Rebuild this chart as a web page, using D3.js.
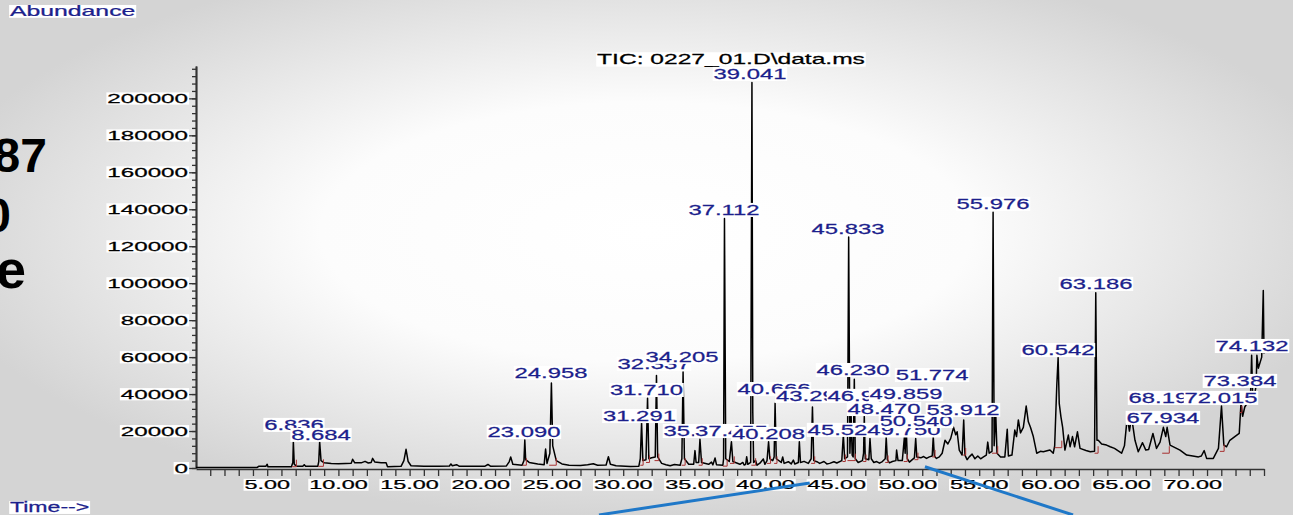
<!DOCTYPE html>
<html>
<head>
<meta charset="utf-8">
<script src="https://cdn.jsdelivr.net/npm/d3@7"></script>
<style>
  html, body { margin: 0; padding: 0; overflow: hidden; }
  text { font-family: "Liberation Sans", Arial, sans-serif; }
</style>
</head>
<body>
<div id="chart"></div>
<script>
// chromatogram trace: [time (min), abundance]
const trace = [
  [0.0, 300], [4.3, 300], [4.4, 900], [4.9, 900], [5.0, 2000], [5.05, 700], [6.7, 700], [6.8, 3000],
  [6.836, 14200], [6.9, 2000], [7.1, 900], [7.5, 900], [7.6, 1800], [7.7, 900], [8.55, 900], [8.62, 3500],
  [8.684, 14200], [8.78, 4000], [9.0, 2800], [9.5, 2500], [10.0, 2300], [10.5, 2500], [10.9, 2600], [11.0, 4700],
  [11.15, 2800], [11.6, 2800], [11.87, 3600], [12.1, 2700], [12.3, 3000], [12.4, 5200], [12.55, 3300], [13.0, 2900],
  [13.35, 2800], [13.45, 700], [14.4, 900], [14.6, 4000], [14.75, 10100], [14.9, 3500], [15.1, 1200], [16.0, 1000],
  [17.0, 900], [17.8, 1100], [17.9, 2200], [18.0, 1200], [18.3, 1800], [18.5, 900], [19.5, 900], [20.3, 1000],
  [20.5, 1900], [20.7, 900], [21.8, 1100], [22.0, 3500], [22.1, 6000], [22.25, 2000], [22.9, 1500], [23.03, 4000],
  [23.09, 15100], [23.15, 4500], [23.4, 3000], [24.0, 2200], [24.45, 1800], [24.55, 10300], [24.65, 2500], [24.85, 8000],
  [24.958, 46000], [25.05, 12000], [25.3, 4000], [25.7, 2200], [26.2, 1500], [27.0, 1400], [27.5, 1700], [27.9, 2300],
  [28.2, 1500], [28.8, 1600], [28.96, 6100], [29.1, 2000], [29.5, 1200], [30.5, 800], [31.1, 1000], [31.2, 5000],
  [31.291, 24500], [31.38, 4000], [31.6, 4500], [31.71, 37800], [31.8, 5000], [32.0, 5500], [32.25, 6000], [32.337, 50000],
  [32.42, 6000], [32.7, 2500], [33.0, 1800], [33.3, 1200], [33.6, 1900], [34.0, 1500], [34.12, 5000], [34.205, 52000], [34.3, 5000], [34.6, 2000],
  [34.95, 2000], [35.04, 9400], [35.12, 3000], [35.3, 3000], [35.39, 15500], [35.5, 3000], [36.0, 2000], [36.2, 3200], [36.3, 1700], [36.45, 5400],
  [36.55, 1800], [37.0, 1500], [37.05, 5000], [37.112, 135000], [37.2, 5000], [37.45, 3500], [37.6, 14200], [37.7, 3500],
  [38.2, 2000], [38.4, 3000], [38.5, 1600], [38.6, 2000], [38.67, 6100], [38.75, 2000], [38.95, 3000], [39.041, 208600], [39.1, 30000], [39.16, 3000],
  [39.3, 4000], [39.4, 1500], [39.6, 2600], [39.84, 4900], [39.95, 2000], [40.1, 4000], [40.208, 14200], [40.3, 5000], [40.5, 4000],
  [40.6, 6000], [40.666, 35000], [40.75, 5000], [41.1, 3000], [41.2, 6000], [41.3, 2500], [41.6, 3400], [41.8, 2200], [41.95, 4300], [42.05, 2200],
  [42.3, 3000], [42.37, 14200], [42.45, 3000], [42.7, 3600], [43.0, 2500], [43.2, 5000], [43.29, 33000], [43.38, 4000], [43.6, 3400], [43.8, 2500],
  [44.1, 3500], [44.3, 2200], [44.5, 2500], [44.8, 3400], [45.0, 2700], [45.35, 4000], [45.46, 18000], [45.55, 5000], [45.75, 6000], [45.833, 125000], [45.92, 8000],
  [46.0, 30000], [46.08, 7000], [46.15, 6000], [46.23, 48000], [46.3, 5000], [46.5, 3000], [46.8, 4000], [46.88, 8000], [46.93, 28000],
  [47.0, 5000], [47.25, 4500], [47.33, 16000], [47.42, 5000], [47.6, 3000], [47.8, 3500], [48.0, 2600], [48.2, 3500], [48.4, 5000], [48.47, 16700],
  [48.55, 4500], [48.7, 2800], [48.9, 3500], [49.15, 4000], [49.2, 9700], [49.3, 4000], [49.6, 4000], [49.75, 17000], [49.8, 8000],
  [49.859, 26000], [49.95, 5000], [50.1, 3200], [50.3, 4500], [50.45, 5500], [50.54, 16000], [50.62, 6000], [50.9, 5500], [51.1, 6200],
  [51.3, 5200], [51.5, 6000], [51.7, 6500], [51.774, 17000], [51.85, 6500], [52.0, 5200], [52.2, 6000], [52.4, 8000], [52.6, 15000], [52.8, 13000],
  [53.0, 16000], [53.2, 22000], [53.35, 18000], [53.45, 19600], [53.6, 9700], [53.8, 7000], [53.912, 26000], [54.0, 7000],
  [54.15, 4500], [54.3, 6000], [54.5, 7500], [54.7, 5000], [54.9, 6500], [55.1, 5000], [55.3, 6000], [55.5, 7000], [55.6, 14000],
  [55.7, 8000], [55.9, 9000], [55.976, 138400], [56.05, 12000], [56.16, 30000], [56.25, 8000], [56.5, 6000], [56.8, 6000],
  [56.97, 21000], [57.05, 6500], [57.3, 7000], [57.5, 20500], [57.62, 17000], [57.75, 26000], [57.9, 19000], [58.1, 22000],
  [58.3, 33500], [58.45, 25000], [58.6, 22000], [58.8, 17000], [59.04, 8000], [59.3, 9000], [59.5, 8800], [59.97, 9700],
  [60.2, 8000], [60.3, 12000], [60.45, 45000], [60.542, 59800], [60.62, 35000], [60.74, 27700], [60.86, 22000], [61.02, 9700], [61.26, 17800],
  [61.38, 11500], [61.55, 17000], [61.7, 11500], [61.9, 19600], [62.08, 10600], [62.5, 9500], [62.8, 8800], [63.1, 9000],
  [63.186, 94800], [63.27, 15000], [63.36, 15000], [63.6, 13000], [63.94, 12400], [64.2, 11500], [64.5, 10600], [65.0, 8000],
  [65.2, 12000], [65.4, 27700], [65.55, 20000], [65.7, 27700], [65.94, 15000], [66.17, 8800], [66.47, 13700], [66.7, 9700],
  [66.9, 10000], [67.2, 18700], [67.45, 10600], [67.7, 14000], [67.934, 22000], [68.1, 17000], [68.197, 22000], [68.4, 12400],
  [69.1, 9700], [69.57, 7000], [70.0, 6500], [70.4, 6000], [70.6, 6500], [70.8, 9400], [70.97, 5200], [71.44, 5200],
  [71.8, 10600], [72.015, 33500], [72.18, 12400], [72.37, 11500], [72.6, 15000], [72.95, 17000], [73.26, 18700], [73.384, 35000],
  [73.5, 28000], [73.65, 33000], [73.96, 36800], [74.05, 38000], [74.132, 61000], [74.2, 40000], [74.25, 35000], [74.45, 45000],
  [74.5, 61000], [74.6, 54000], [74.84, 60000], [74.95, 96000], [75.0, 62000]
];

// peak labels: text, label centre (min), label baseline (abundance); listed in drawing order
const peakNames = ["6.836", "8.684", "23.090", "24.958", "31.291", "31.710", "32.337", "34.205", "35.390", "37.455",
  "40.208", "37.112", "39.041", "40.666", "43.296", "46.939", "49.859", "45.833", "46.230", "48.470", "49.750", "50.540",
  "45.524", "51.774", "53.912", "55.976", "60.542", "63.186", "68.197", "72.015", "67.934", "73.384", "74.132"];
const labelTimes = [6.88, 8.78, 23.03, 24.93, 31.14, 31.64, 32.16, 34.13, 35.39, 37.6,
  40.2, 37.08, 38.9, 40.59, 43.29, 46.91, 49.86, 45.79, 46.14, 48.31, 49.72, 50.56,
  45.51, 51.69, 53.86, 55.97, 60.53, 63.2, 68.05, 71.98, 67.9, 73.31, 74.16];
const labelLevels = [20600, 15200, 16800, 48700, 25400, 39500, 53600, 57400, 17300, 17300,
  15700, 136900, 210500, 40000, 36300, 36300, 37300, 126600, 50300, 29200, 17600, 22700,
  17900, 47600, 28700, 140200, 61100, 96900, 35200, 35200, 24400, 44400, 63300];

// integration baselines (red): start, end, abundance
const integStart = [6.75, 8.6, 22.95, 24.8, 31.2, 31.6, 32.2, 34.1, 35.3, 37.0, 37.5, 39.0, 40.1, 40.6, 43.2, 45.4,
  45.75, 46.85, 48.4, 49.7, 50.45, 51.7, 53.85, 55.9, 60.3, 63.1, 67.85, 71.9, 73.3, 74.05];
const integEnd = [7.05, 8.95, 23.2, 25.3, 31.4, 31.85, 32.5, 34.35, 35.55, 37.3, 37.8, 39.3, 40.35, 40.8, 43.45, 45.6,
  46.3, 47.05, 48.6, 49.95, 50.7, 51.9, 54.05, 56.3, 60.8, 63.35, 68.35, 72.2, 73.45, 74.2];
const integLevel = [700, 900, 1500, 1500, 1500, 3000, 4000, 1500, 1500, 1000, 2500, 1500, 2500, 2500, 2500, 3500,
  4000, 3500, 3000, 3500, 4500, 6000, 7000, 8000, 11000, 8000, 8000, 9000, 30000, 45000];

// axis ticks
const yMajor = d3.range(0, 200001, 20000);
const yMinor = d3.range(0, 216001, 4000);
const xTicks = d3.range(1, 76, 1);
const xLabels = d3.range(5, 71, 5);

// slide pieces around the chart
const slideText = ["87", "0", "e"];
const blueLines = [[[28.3, -25400], [43.1, -8100]], [[51.19, 700], [61.59, -25400]]];

const W = 1293, H = 515;
const navy = "#1c1f8c";

const svg = d3.select("#chart").append("svg")
  .attr("width", W).attr("height", H);

const defs = svg.append("defs");
const grad = defs.append("radialGradient").attr("id", "bg")
  .attr("cx", 0.5).attr("cy", 0.45).attr("r", 0.56);
grad.append("stop").attr("offset", "0").attr("stop-color", "#ffffff");
grad.append("stop").attr("offset", "0.45").attr("stop-color", "#fcfcfc");
grad.append("stop").attr("offset", "1").attr("stop-color", "#d4d4d4");
svg.append("rect").attr("width", W).attr("height", H).attr("fill", "url(#bg)");

const x = d3.scaleLinear().domain([0, 75]).range([196, 1264]);
const y = d3.scaleLinear().domain([0, 217500]).range([468, 66]);

// stretched text like the original export
function stretchText(parent, str, px, py, o) {
  const g = parent.append("g")
    .attr("transform", "translate(" + px + "," + py + ") scale(" + o.sx + ",1)");
  const t = g.append("text")
    .attr("text-anchor", o.anchor || "middle")
    .style("font-size", o.size + "px")
    .attr("fill", o.color || "#000")
    .attr("stroke", o.color || "#000")
    .attr("stroke-width", 0.25)
    .text(str);
  if (o.box) {
    const b = t.node().getBBox();
    g.insert("rect", "text")
      .attr("x", b.x - 0.5).attr("y", b.y + 1.5)
      .attr("width", b.width + 1).attr("height", b.height - 2.5)
      .attr("fill", "#fff");
  }
  return g;
}

// slide text behind the chart
const slideY = [172, 232, 288];
const slideX = [47, 11, 26];
slideText.forEach(function (s, i) {
  svg.append("text").attr("x", slideX[i]).attr("y", slideY[i])
    .attr("text-anchor", "end")
    .style("font-size", i == 2 ? "54px" : "48px").style("font-weight", "bold")
    .attr("fill", "#000").text(s);
});

// axes
const yMinorAxis = svg.append("g").attr("transform", "translate(196,0)")
  .call(d3.axisLeft(y).tickValues(yMinor).tickSize(4).tickSizeOuter(0).tickFormat(""));
const yMajorAxis = svg.append("g").attr("transform", "translate(196,0)")
  .call(d3.axisLeft(y).tickValues(yMajor).tickSize(7).tickSizeOuter(0).tickFormat(""));
const xAxis = svg.append("g").attr("transform", "translate(0,469)")
  .call(d3.axisBottom(x).tickValues(xTicks).tickSize(7).tickSizeOuter(0).tickFormat(""));
[yMinorAxis, yMajorAxis, xAxis].forEach(function (a) {
  a.selectAll("path, line").attr("stroke", "#333").attr("stroke-width", 1.3);
});
yMajorAxis.select(".domain").attr("stroke-width", 2);

yMajor.forEach(function (v) {
  stretchText(svg, String(v), 188, y(v) + 4.6, { size: 13, sx: 1.86, anchor: "end", box: true });
});
xLabels.forEach(function (t) {
  stretchText(svg, t.toFixed(2), x(t), 489, { size: 13, sx: 1.8, box: true });
});

// trace
const line = d3.line().x(d => x(d[0])).y(d => y(d[1]));
svg.append("path").datum(trace)
  .attr("d", line)
  .attr("fill", "none")
  .attr("stroke", "#000")
  .attr("stroke-width", 1.5)
  .attr("stroke-linejoin", "round");

// integration marks
integStart.forEach(function (t0, i) {
  const t1 = integEnd[i], v = integLevel[i];
  svg.append("path")
    .attr("d", "M" + x(t0) + "," + y(v) + "H" + x(t1) + "V" + (y(v) - 7))
    .attr("fill", "none").attr("stroke", "#a83232").attr("stroke-width", 1);
});

// title
stretchText(svg, "TIC: 0227_01.D\\data.ms", 731, 64, { size: 15, sx: 1.64, box: true });

// peak labels
peakNames.forEach(function (s, i) {
  stretchText(svg, s, x(labelTimes[i]), y(labelLevels[i]), { size: 15, sx: 1.59, color: navy, box: true });
});

// axis captions
stretchText(svg, "Abundance", 10, 16, { size: 14, sx: 1.77, anchor: "start", color: navy, box: true });
stretchText(svg, "Time-->", 10, 512, { size: 14, sx: 1.65, anchor: "start", color: navy, box: true });

// blue callout lines of the slide
blueLines.forEach(function (l) {
  svg.append("path").datum(l).attr("d", line)
    .attr("stroke", "#1f78c8").attr("stroke-width", 3).attr("fill", "none");
});
</script>
</body>
</html>
